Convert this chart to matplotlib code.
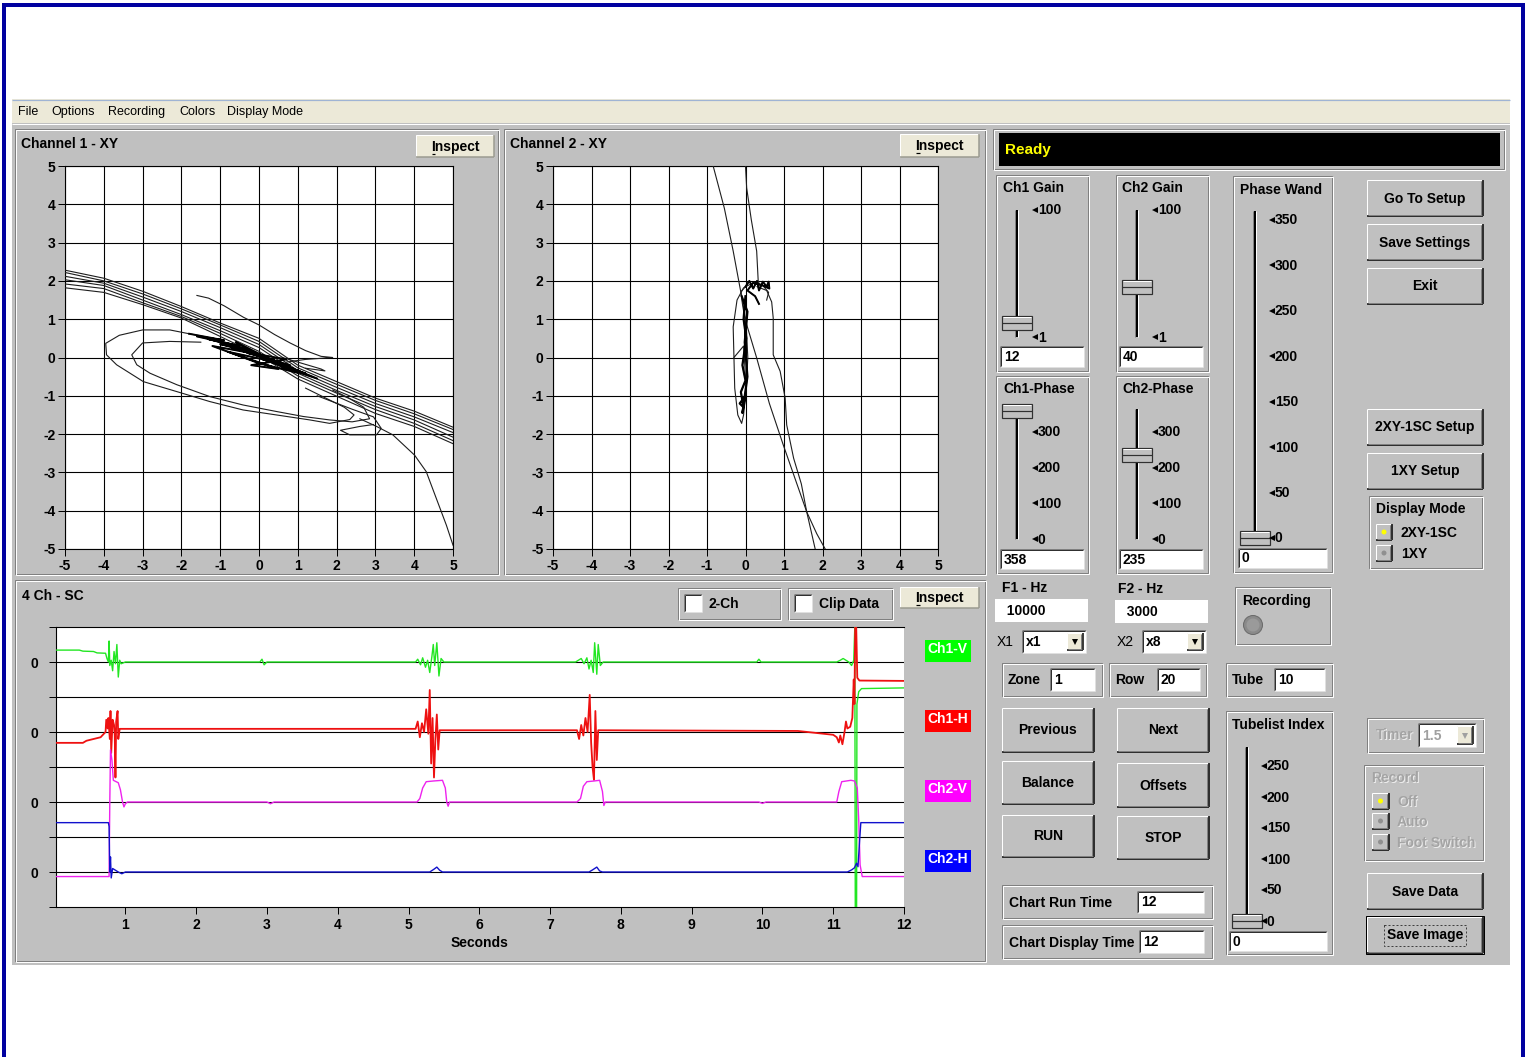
import matplotlib
matplotlib.use('Agg')
import matplotlib.pyplot as plt
from matplotlib.patches import Rectangle, Circle

# ---------------------------------------------------------------- data
menu_items = ["File", "Options", "Recording", "Colors", "Display Mode"]
menu_x = [18, 51, 108, 179, 227]

xy_ticks = [-5, -4, -3, -2, -1, 0, 1, 2, 3, 4, 5]

# Channel 1 XY: band of nearly straight traces, sampled at x = -5..5
band_x = [-5, -4, -3, -2, -1, 0, 1, 2, 3, 4, 5]
ch1_band = [
    [2.28, 2.07, 1.73, 1.33, 0.90, 0.50, -0.20, -0.63, -1.06, -1.40, -1.82],
    [2.22, 2.00, 1.66, 1.27, 0.85, 0.42, -0.27, -0.70, -1.12, -1.47, -1.88],
    [2.12, 1.94, 1.58, 1.20, 0.78, 0.34, -0.34, -0.78, -1.20, -1.55, -1.96],
    [2.03, 1.88, 1.50, 1.12, 0.70, 0.26, -0.41, -0.86, -1.28, -1.63, -2.08],
    [1.92, 1.80, 1.43, 1.07, 0.63, 0.16, -0.48, -0.93, -1.36, -1.72, -2.17],
    [1.82, 1.70, 1.38, 1.03, 0.55, 0.06, -0.56, -1.01, -1.46, -1.80, -2.25],
]
ch1_outer = [(-1.8, 0.62), (-2.3, 0.72), (-3.0, 0.72), (-3.6, 0.58), (-3.95, 0.37), (-3.93, 0.07),
             (-3.67, -0.19), (-2.98, -0.63), (-2.12, -0.89), (-1.27, -1.15), (-0.41, -1.37), (0.45, -1.5),
             (1.31, -1.63), (1.82, -1.72), (2.34, -1.62), (2.45, -1.5), (2.2, -1.3), (1.7, -1.05), (1.2, -0.8)]
ch1_inner = [(-1.5, 0.4), (-2.3, 0.42), (-3.0, 0.38), (-3.28, 0.07), (-3.15, -0.19), (-2.81, -0.41),
             (-2.12, -0.71), (-1.27, -1.02), (-0.41, -1.24), (0.45, -1.41), (1.14, -1.54), (1.82, -1.63),
             (2.4, -1.68), (2.85, -1.6), (2.7, -1.3), (2.3, -1.05), (1.9, -0.85)]
ch1_lower = [(1.5, -1.0), (2.4, -1.35), (2.95, -1.55), (3.15, -1.85), (3.03, -2.02), (2.34, -2.02),
             (2.1, -1.9), (2.6, -1.8), (2.95, -1.75)]
ch1_tail = [(2.6, -1.6), (3.03, -1.8), (3.45, -2.02), (4.01, -2.55), (4.31, -2.98), (4.57, -3.68),
            (4.83, -4.38), (5.0, -4.9)]
ch1_upper = [(-1.6, 1.62), (-1.3, 1.55), (-0.9, 1.35), (-0.4, 1.05), (0.0, 0.85), (0.4, 0.6), (0.8, 0.38),
             (1.2, 0.18), (1.6, 0.03), (1.9, 0.0), (1.2, -0.05), (0.7, -0.12)]
ch1_spike = [(0.6, 0.0), (1.1, -0.15), (1.6, -0.3), (1.7, -0.35), (1.2, -0.28)]
ch1_cluster = [(-1.8, 0.62), (-0.9, 0.45), (-1.6, 0.55), (-0.5, 0.3), (-1.3, 0.48), (-0.2, 0.18), (-1.0, 0.35),
               (0.1, 0.05), (-0.7, 0.25), (0.3, -0.05), (-0.4, 0.2), (0.6, -0.15), (-0.1, 0.08), (0.9, -0.3),
               (0.1, -0.05), (1.2, -0.42), (0.4, -0.1), (1.5, -0.55), (0.6, -0.25), (-0.6, 0.4), (0.2, 0.0),
               (-0.3, 0.12), (0.8, -0.2), (-0.8, 0.15), (0.5, -0.3), (-0.2, -0.2), (0.7, -0.05), (-1.2, 0.3),
               (0.0, -0.15), (1.0, -0.4)]
ch1_strokes = [ch1_outer, ch1_inner, ch1_lower, ch1_tail, ch1_upper, ch1_spike, ch1_cluster]

# Channel 2 XY
ch2_a = [(-0.84, 5.0), (-0.55, 3.9), (-0.32, 2.78), (-0.12, 1.7), (0.03, 0.86), (0.29, -0.01), (0.62, -1.2),
         (0.98, -2.28), (1.3, -3.2), (1.59, -4.03), (1.81, -5.0)]
ch2_b = [(0.0, 5.0), (0.03, 4.43), (0.15, 3.6), (0.29, 2.78), (0.33, 2.0), (0.4, 1.8)]
ch2_c = [(0.3, 1.85), (0.55, 1.75), (0.68, 1.45), (0.72, 1.03), (0.72, 0.07), (0.9, -0.36), (1.03, -1.06),
         (1.07, -1.76), (1.25, -2.63), (1.45, -3.3), (1.59, -4.03), (1.85, -4.6), (2.07, -5.0)]
ch2_loop = [(0.0, -0.5), (-0.05, 0.3), (-0.3, 0.0), (-0.32, 0.8), (-0.22, 1.5), (-0.05, 1.82), (0.2, 1.95),
            (0.45, 1.88), (0.6, 1.7), (0.55, 1.5)]
ch2_left = [(-0.3, 0.0), (-0.28, -0.8), (-0.2, -1.5), (-0.1, -1.72), (-0.05, -1.5), (0.02, -0.8), (0.06, 0.0),
            (0.02, 0.8), (-0.08, 1.4), (-0.12, 1.72), (0.05, 1.9)]
ch2_top = [(0.0, 1.85), (0.1, 2.0), (0.2, 1.8), (0.3, 2.0), (0.35, 1.75), (0.45, 1.98), (0.55, 1.85),
           (0.6, 1.98), (0.62, 1.8), (0.4, 1.9), (0.2, 1.95), (0.05, 1.75), (0.25, 1.6), (0.35, 1.4)]
ch2_core = [(0.0, 1.6), (-0.05, 1.0), (0.02, 0.5), (-0.08, -0.2), (0.0, -0.6), (-0.12, -0.9), (-0.05, -1.3),
            (-0.15, -1.2), (0.0, -1.0), (-0.08, -1.45), (0.05, -0.5), (-0.02, 0.4), (0.05, 1.2), (-0.1, 1.6)]
ch2_strokes = [ch2_a, ch2_b, ch2_c, ch2_loop, ch2_left, ch2_top, ch2_core]

# 4 Ch strip chart: (seconds, offset from the channel's own zero line)
sc_names = ["Ch1-V", "Ch1-H", "Ch2-V", "Ch2-H"]
sc_base = [7, 5, 3, 1]
sc_colors = ["#22e622", "#ee1111", "#ee22ee", "#1111cc"]
sc_box_colors = ["#00ff00", "#ff0000", "#ff00ff", "#0000ff"]
sc_seconds = [1, 2, 3, 4, 5, 6, 7, 8, 9, 10, 11, 12]
ch1v = [(0.0, 0.34), (0.35, 0.34), (0.40, 0.31), (0.55, 0.30), (0.60, 0.26), (0.72, 0.25), (0.74, 0.10),
        (0.76, 0.00), (0.77, 0.60), (0.78, -0.10), (0.80, 0.05), (0.82, -0.25), (0.84, 0.30), (0.86, -0.05),
        (0.88, 0.50), (0.90, -0.43), (0.92, 0.05), (0.94, -0.05), (1.00, 0.0), (2.90, 0.0), (2.93, 0.08),
        (2.96, -0.08), (3.00, 0.0), (5.10, 0.0), (5.13, 0.08), (5.17, -0.08), (5.20, 0.12), (5.24, -0.15),
        (5.27, 0.05), (5.30, -0.30), (5.33, 0.15), (5.35, 0.50), (5.37, -0.10), (5.40, 0.55), (5.43, -0.40),
        (5.46, 0.10), (5.50, 0.0), (7.36, 0.0), (7.40, 0.05), (7.44, 0.10), (7.48, -0.05), (7.52, 0.12),
        (7.55, -0.20), (7.58, 0.05), (7.61, -0.30), (7.63, 0.55), (7.66, -0.35), (7.68, 0.50), (7.71, -0.10),
        (7.75, 0.0), (9.92, 0.0), (9.95, 0.08), (9.98, 0.0), (11.05, 0.0), (11.10, 0.05), (11.14, 0.10),
        (11.18, 0.05), (11.22, 0.0), (11.26, -0.10), (11.29, 0.05), (11.305, 1.0), (11.312, -7.5),
        (11.33, -7.5), (11.335, -1.2), (11.36, -0.85), (11.40, -0.76), (12.0, -0.74)]
ch1h = [(0.0, -0.31), (0.40, -0.31), (0.45, -0.25), (0.55, -0.2), (0.65, -0.15), (0.72, 0.0), (0.73, 0.35),
        (0.75, 0.1), (0.76, 0.4), (0.78, -0.2), (0.79, 0.6), (0.80, -0.6), (0.82, 0.35), (0.84, 0.2),
        (0.85, -0.1), (0.86, -1.3), (0.87, 0.3), (0.89, 0.6), (0.90, -0.2), (0.92, 0.09), (5.10, 0.09),
        (5.13, 0.3), (5.16, -0.15), (5.19, 0.25), (5.22, 0.0), (5.25, 0.65), (5.28, -0.05), (5.30, 1.2),
        (5.32, -0.9), (5.34, 0.4), (5.36, -1.3), (5.38, -0.2), (5.40, 0.5), (5.42, -0.5), (5.44, 0.05),
        (7.38, 0.05), (7.41, -0.2), (7.44, 0.2), (7.47, -0.1), (7.50, 0.4), (7.53, 0.0), (7.56, 1.06),
        (7.58, -0.3), (7.60, -1.0), (7.62, -1.37), (7.64, 0.6), (7.66, -0.8), (7.68, 0.05), (10.5, 0.03),
        (11.0, -0.08), (11.05, -0.15), (11.08, -0.3), (11.10, -0.1), (11.13, -0.35), (11.16, 0.0),
        (11.18, 0.3), (11.20, 0.1), (11.24, 0.15), (11.27, 0.4), (11.29, 1.5), (11.30, 0.8), (11.31, 3.0),
        (11.325, 3.0), (11.34, 1.55), (11.37, 1.47), (12.0, 1.46)]
ch2v = [(0.0, -2.13), (0.77, -2.13), (0.78, 0.0), (0.79, 1.49), (0.81, 1.2), (0.83, 0.62), (0.87, 0.58),
        (0.90, 0.55), (0.93, 0.35), (0.96, 0.0), (0.98, -0.14), (1.00, -0.05), (1.03, 0.0), (3.0, 0.0),
        (3.05, -0.05), (3.1, 0.0), (5.12, 0.0), (5.16, 0.1), (5.20, 0.4), (5.25, 0.58), (5.35, 0.6),
        (5.48, 0.62), (5.52, 0.4), (5.54, 0.0), (5.56, -0.12), (5.58, 0.0), (7.38, 0.0), (7.43, 0.1),
        (7.47, 0.45), (7.52, 0.58), (7.62, 0.6), (7.70, 0.62), (7.74, 0.3), (7.76, -0.1), (7.78, 0.0),
        (9.95, 0.0), (10.0, -0.04), (10.05, 0.0), (11.05, 0.0), (11.08, 0.3), (11.12, 0.58), (11.25, 0.62),
        (11.30, 0.6), (11.34, 0.4), (11.36, -0.5), (11.38, -1.8), (11.41, -2.13), (12.0, -2.13)]
ch2h = [(0.0, 1.41), (0.76, 1.41), (0.77, 1.3), (0.78, 0.0), (0.79, 0.43), (0.80, -0.17), (0.82, 0.1),
        (0.86, 0.05), (0.90, 0.0), (0.95, -0.05), (1.0, 0.0), (5.30, 0.0), (5.36, 0.08), (5.40, 0.14),
        (5.44, 0.05), (5.48, 0.0), (7.55, 0.0), (7.60, 0.06), (7.66, 0.14), (7.70, 0.03), (7.74, 0.0),
        (11.20, 0.0), (11.26, 0.06), (11.30, 0.12), (11.33, 0.25), (11.35, 0.15), (11.37, 0.8), (11.39, 1.41),
        (12.0, 1.41)]
sc_traces = [ch1v, ch1h, ch2v, ch2h]
sc_widths = [1.0, 1.3, 1.0, 1.0]

# control panel values
ch1_gain, ch2_gain = 12, 40
ch1_phase, ch2_phase = 358, 235
phase_wand, tubelist_index = 0, 0
f1_hz, f2_hz = "10000", "3000"
zone, row, tube = "1", "20", "10"
chart_run_time, chart_display_time = "12", "12"

# ---------------------------------------------------------------- setup
W, H = 1530, 1057
PX = 0.72
FONT = ['Liberation Sans', 'DejaVu Sans']
plt.rcParams['font.family'] = FONT
GRAY = '#c0c0c0'
DARK = '#808080'

fig = plt.figure(figsize=(W / 100, H / 100), dpi=100)
fig.patch.set_facecolor('white')
bg = fig.add_axes([0, 0, 1, 1], zorder=0)
bg.set_xlim(0, W)
bg.set_ylim(H, 0)
bg.axis('off')


def R(x0, y0, x1, y1, fc, ec='none', lw=0, z=1, fill=True, ls='-'):
    bg.add_patch(Rectangle((x0, y0), x1 - x0, y1 - y0, facecolor=fc if fill else 'none',
                           fill=fill, edgecolor=ec, linewidth=lw, zorder=z, linestyle=ls))


def L(xs, ys, c, w=1.0, z=2):
    bg.plot(xs, ys, color=c, lw=w * PX, zorder=z, solid_capstyle='butt')


def T(x, y, s, size=10, c='black', ha='left', va='center', bold=True, z=6):
    bg.text(x, y, s, fontsize=size, color=c, ha=ha, va=va,
            fontweight='bold' if bold else 'normal', zorder=z)


def Tdis(x, y, s, size=10):
    T(x + 1, y + 1, s, size, c='#ececec', z=5)
    T(x, y, s, size, c='#a4a4a4', z=6)


def button(x0, y0, x1, y1, label, face=GRAY, size=10, default=False):
    R(x0, y0, x1, y1, face, z=2)
    L([x0, x1], [y0, y0], 'white', z=3)
    L([x0, x0], [y0, y1], 'white', z=3)
    L([x0, x1], [y1, y1], 'black', 1.5, z=3)
    L([x1, x1], [y0, y1], 'black', 1.5, z=3)
    L([x0 + 1, x1 - 1], [y1 - 1.5, y1 - 1.5], DARK, z=3)
    L([x1 - 1.5, x1 - 1.5], [y0 + 1, y1 - 1], DARK, z=3)
    if default:
        R(x0 - 1, y0 - 1, x1 + 1, y1 + 1, 'none', ec='black', lw=PX, z=3, fill=False)
    if label:
        T((x0 + x1) / 2, (y0 + y1) / 2 + 0.5, label, size, ha='center')


def inspect_button(x0, y0, x1, y1):
    R(x0, y0, x1, y1, '#ece9d8', z=2)
    L([x0, x1], [y0, y0], 'white', z=3)
    L([x0, x0], [y0, y1], 'white', z=3)
    L([x0, x1], [y1, y1], '#9a9a90', 1.5, z=3)
    L([x1, x1], [y0, y1], '#9a9a90', 1.5, z=3)
    cx = (x0 + x1) / 2
    cy = (y0 + y1) / 2
    T(cx, cy + 0.5, "Inspect", 10, ha='center')
    L([cx - 23, cx - 19.5], [cy + 7.5, cy + 7.5], 'black', 1.2, z=6)


def group(x0, y0, x1, y1):
    R(x0, y0, x1, y1, 'none', ec=DARK, lw=PX, z=2, fill=False)
    R(x0 + 1, y0 + 1, x1 + 1, y1 + 1, 'none', ec='white', lw=PX, z=2, fill=False)


def tbox(x0, y0, x1, y1, txt, size=10, c='black', sunken=True):
    R(x0, y0, x1, y1, 'white', z=2)
    if sunken:
        L([x0, x1], [y0, y0], DARK, z=3)
        L([x0, x0], [y0, y1], DARK, z=3)
        L([x0 + 1, x1 - 1], [y0 + 1, y0 + 1], '#303030', z=3)
        L([x0 + 1, x0 + 1], [y0 + 1, y1 - 1], '#303030', z=3)
        L([x0, x1], [y1, y1], '#e0e0e0', z=3)
        L([x1, x1], [y0, y1], '#e0e0e0', z=3)
    T(x0 + 4, (y0 + y1) / 2 + 0.5, txt, size, c)


def combo(x0, y0, x1, y1, txt, c='black', arrow='black'):
    tbox(x0, y0, x1, y1, txt, 10, c)
    bx0, bx1 = x1 - 19, x1 - 3
    by0, by1 = y0 + 3, y1 - 3
    button(bx0, by0, bx1, by1, '', face='#ece9d8')
    bg.plot([(bx0 + bx1) / 2], [(by0 + by1) / 2 + 0.5], marker='v', ms=4.5, color=arrow, zorder=7,
            markeredgewidth=0)


def radio(x0, y0, x1, y1, dot):
    button(x0, y0, x1, y1, '')
    bg.add_patch(Circle(((x0 + x1) / 2, (y0 + y1) / 2), 2.5, facecolor=dot, edgecolor='none', zorder=7))


def slider(x, y_lo, y_hi, v_lo, v_hi, v_max, value, ticks, lab_x):
    f = lambda v: y_lo + (v - v_lo) / (v_hi - v_lo) * (y_hi - y_lo)
    top, bot = f(v_max), f(v_lo)
    L([x - 1.5, x - 1.5], [top, bot], DARK, 1, z=3)
    L([x, x], [top, bot], 'black', 2, z=3)
    L([x + 1.5, x + 1.5], [top, bot], 'white', 1, z=3)
    yt = f(value)
    R(x - 15, yt - 7, x + 15, yt + 7, GRAY, ec='#303030', lw=PX * 1.2, z=4)
    L([x - 15, x + 15], [yt, yt], '#303030', 1.2, z=5)
    L([x - 14, x + 14], [yt - 6, yt - 6], 'white', 1, z=5)
    for tv in ticks:
        yy = f(tv)
        bg.plot([lab_x + 2], [yy], marker='<', ms=4.5, color='black', zorder=7, markeredgewidth=0)
        T(lab_x + 5, yy + 0.5, str(tv), 10)


# ---------------------------------------------------------------- window chrome
R(12, 99, 1510, 123, '#ece9d8', z=1)
L([12, 1510], [99.5, 99.5], '#9fb4d4', 1.2)
for s, x in zip(menu_items, menu_x):
    T(x, 112, s, 9, bold=False)
R(12, 123, 1510, 965, GRAY, z=1)
L([12, 1510], [123.5, 123.5], 'white', 1)
# blue outer border
L([4.5, 4.5], [3, H], '#0000a0', 4, z=8)
L([3, 1525], [4.5, 4.5], '#0000a0', 4, z=8)
L([1523, 1523], [3, H], '#0000a0', 4, z=8)

# frames
group(15, 129, 498, 574)
group(504, 129, 985, 574)
group(15, 580, 985, 961)
T(21, 144, "Channel 1 - XY", 10)
T(510, 144, "Channel 2 - XY", 10)
T(22, 596, "4 Ch - SC", 10)
inspect_button(416, 135, 494, 157)
inspect_button(900, 134, 979, 157)
inspect_button(900, 587, 979, 608)

# checkboxes
for (gx0, gx1, lab) in [(678, 780, "2-Ch"), (788, 892, "Clip Data")]:
    group(gx0, 588, gx1, 619)
    tbox(gx0 + 6, 594, gx0 + 24, 612, '')
    T(gx0 + 31, 604, lab, 10)

# ---------------------------------------------------------------- XY axes


def fig_rect(x0, y0, x1, y1):
    return [x0 / W, 1 - y1 / H, (x1 - x0) / W, (y1 - y0) / H]


def make_xy(rect, strokes, band=None):
    ax = fig.add_axes(fig_rect(*rect), zorder=3)
    ax.set_facecolor('white')
    ax.set_xlim(-5, 5)
    ax.set_ylim(-5, 5)
    ax.set_xticks(xy_ticks)
    ax.set_yticks(xy_ticks)
    ax.set_xticklabels([str(v) for v in xy_ticks])
    ax.set_yticklabels([str(v) for v in xy_ticks])
    ax.grid(True, color='black', lw=PX * 1.1, zorder=1)
    ax.set_axisbelow(True)
    ax.tick_params(direction='out', length=5, width=PX, labelsize=10, pad=2, colors='black')
    for lab in ax.get_xticklabels() + ax.get_yticklabels():
        lab.set_fontweight('bold')
    for sp in ax.spines.values():
        sp.set_linewidth(PX * 1.1)
        sp.set_color('black')
    if band is not None:
        for row_ in band:
            ax.plot(band_x, row_, color='#1e1e1e', lw=0.8, zorder=3)
    for st in strokes:
        ax.plot([p[0] for p in st], [p[1] for p in st], color='#1e1e1e', lw=0.8, zorder=3)
    return ax


ax1 = make_xy((65, 166, 453, 549), ch1_strokes, ch1_band)
ax1.plot([p[0] for p in ch1_cluster], [p[1] for p in ch1_cluster], color='black', lw=1.4, zorder=4)
ax2 = make_xy((553, 166, 938, 549), ch2_strokes)
ax2.plot([p[0] for p in ch2_core], [p[1] for p in ch2_core], color='black', lw=1.6, zorder=4)
ax2.plot([p[0] for p in ch2_top], [p[1] for p in ch2_top], color='black', lw=1.4, zorder=4)

# ---------------------------------------------------------------- strip chart
axs = fig.add_axes(fig_rect(56, 627, 904, 907), zorder=3)
axs.set_facecolor('white')
axs.set_xlim(0.02, 12)
axs.set_ylim(0, 8)
axs.set_xticks(sc_seconds)
axs.set_xticklabels([str(v) for v in sc_seconds])
axs.set_yticks(list(range(9)))
axs.set_yticklabels(['0' if i in sc_base else '' for i in range(9)])
axs.tick_params(direction='out', length=5, width=PX, labelsize=10, colors='black')
axs.tick_params(axis='y', pad=8)
axs.tick_params(axis='x', pad=3)
for lab in axs.get_xticklabels() + axs.get_yticklabels():
    lab.set_fontweight('bold')
for sp in axs.spines.values():
    sp.set_linewidth(PX * 1.1)
    sp.set_color('black')
axs.spines['right'].set_visible(False)
for lvl in range(1, 8):
    axs.axhline(lvl, color='black', lw=PX * 1.1, zorder=1)
for tr, base, col, lw in zip(sc_traces, sc_base, sc_colors, sc_widths):
    axs.plot([p[0] for p in tr], [p[1] + base for p in tr], color=col, lw=lw, zorder=3)
axs.set_xlabel("Seconds", fontsize=10, fontweight='bold', labelpad=3)

for i, (name, bc) in enumerate(zip(sc_names, sc_box_colors)):
    y0 = 640 + i * 70
    R(925, y0, 971, y0 + 22, bc, z=2)
    T(927, y0 + 9, name, 10, c='white')

# ---------------------------------------------------------------- right panel
group(993, 129, 1504, 169)
R(999, 133, 1500, 166, 'black', z=2)
T(1005, 150, "Ready", 11, c='#ffff00')

group(996, 175, 1088, 371)
T(1003, 188, "Ch1 Gain")
slider(1017, 337, 210, 1, 100, 100, ch1_gain, [100, 1], 1033)
tbox(1000, 346, 1084, 367, str(ch1_gain))

group(1116, 175, 1208, 371)
T(1122, 188, "Ch2 Gain")
slider(1137, 337, 210, 1, 100, 100, ch2_gain, [100, 1], 1153)
tbox(1119, 346, 1203, 367, str(ch2_gain))

group(996, 376, 1088, 573)
T(1003, 389, "Ch1-Phase")
slider(1017, 539, 432, 0, 300, 365, ch1_phase, [300, 200, 100, 0], 1033)
tbox(1000, 549, 1084, 569, str(ch1_phase))

group(1116, 376, 1208, 573)
T(1122, 389, "Ch2-Phase")
slider(1137, 539, 432, 0, 300, 365, ch2_phase, [300, 200, 100, 0], 1153)
tbox(1119, 549, 1203, 569, str(ch2_phase))

group(1233, 176, 1332, 572)
T(1240, 190, "Phase Wand")
slider(1255, 538, 220, 0, 350, 360, phase_wand, [350, 300, 250, 200, 150, 100, 50, 0], 1270)
tbox(1238, 548, 1327, 568, str(phase_wand))

for lab, b in [("Go To Setup", 180), ("Save Settings", 224), ("Exit", 268),
               ("2XY-1SC Setup", 409), ("1XY Setup", 453)]:
    button(1367, b, 1483, b + 36, lab)

group(1369, 496, 1482, 568)
T(1376, 509, "Display Mode")
radio(1376, 524, 1392, 540, '#ffff00')
T(1401, 533, "2XY-1SC")
radio(1376, 545, 1392, 561, '#909090')
T(1401, 554, "1XY")

T(1002, 588, "F1 - Hz")
tbox(995, 599, 1088, 622, "  " + f1_hz, sunken=False)
T(1118, 589, "F2 - Hz")
tbox(1115, 600, 1208, 623, "  " + f2_hz, sunken=False)
T(997, 642, "X1", 10, bold=False)
combo(1022, 630, 1086, 653, "x1")
T(1117, 642, "X2", 10, bold=False)
combo(1142, 630, 1206, 653, "x8")

group(1235, 587, 1330, 644)
T(1242, 601, "Recording")
bg.add_patch(Circle((1253, 625), 9.5, facecolor='#8a8a8a', edgecolor='#6a6a6a', lw=PX, zorder=4))
bg.add_patch(Circle((1253, 625), 6.5, facecolor='#9a9a9a', edgecolor='none', zorder=5))

for (x0, x1, lab, bx0, bx1, val) in [(1002, 1102, "Zone", 1050, 1095, zone),
                                      (1109, 1206, "Row", 1157, 1200, row),
                                      (1226, 1332, "Tube", 1274, 1325, tube)]:
    group(x0, 663, x1, 696)
    T(x0 + 6, 680, lab)
    tbox(bx0, 668, bx1, 691, val)

for lab, x0, y0, x1, y1 in [("Previous", 1002, 708, 1094, 752), ("Next", 1117, 708, 1209, 752),
                            ("Balance", 1002, 761, 1094, 804), ("Offsets", 1117, 763, 1209, 807),
                            ("RUN", 1002, 815, 1094, 857), ("STOP", 1117, 816, 1209, 859)]:
    button(x0, y0, x1, y1, lab)

group(1002, 885, 1212, 918)
T(1009, 903, "Chart Run Time")
tbox(1137, 891, 1204, 913, chart_run_time)
group(1002, 925, 1212, 958)
T(1009, 943, "Chart Display Time")
tbox(1139, 930, 1204, 953, chart_display_time)

group(1226, 711, 1332, 954)
T(1232, 725, "Tubelist Index")
slider(1247, 921, 766, 0, 250, 280, tubelist_index, [250, 200, 150, 100, 50, 0], 1262)
tbox(1229, 931, 1327, 951, str(tubelist_index))

# disabled timer / record
group(1367, 718, 1483, 752)
Tdis(1376, 735, "Timer")
combo(1418, 723, 1476, 747, "1.5", c='#a0a0a0', arrow='#a0a0a0')
group(1364, 765, 1483, 860)
Tdis(1371, 778, "Record")
for (yy, lab, dot) in [(793, "Off", '#ffff00'), (813, "Auto", '#909090'), (834, "Foot Switch", '#909090')]:
    radio(1372, yy, 1389, yy + 16, dot)
    Tdis(1397, yy + 9, lab)

button(1367, 873, 1483, 909, "Save Data")
button(1367, 917, 1483, 953, "Save Image", default=True)
R(1384, 925, 1466, 946, 'none', ec='#404040', lw=PX, z=5, fill=False, ls=(0, (2, 2)))

fig.savefig("out.png", dpi=100, facecolor='white')
